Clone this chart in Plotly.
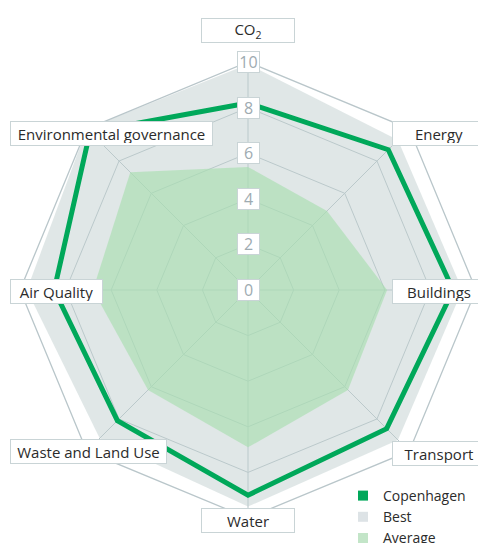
import plotly.graph_objects as go

# ---- data ----
categories = ["CO2", "Energy", "Buildings", "Transport", "Water",
              "Waste and Land Use", "Air Quality", "Environmental governance"]
category_labels = ["CO<sub>2</sub>", "Energy", "Buildings", "Transport", "Water",
                   "Waste and Land Use", "Air Quality", "Environmental governance"]
copenhagen = [8.2, 8.7, 9.0, 8.6, 9.0, 8.1, 8.5, 9.8]
best = [9.9, 9.3, 9.4, 9.3, 9.5, 9.2, 9.7, 10.0]
average = [5.4, 4.9, 6.1, 6.2, 6.9, 6.2, 6.8, 7.3]
radial_ticks = [0, 2, 4, 6, 8, 10]

# ---- styling / layout ----
OFF = 8                      # page body margin
W, H = 486 - OFF, 543 - OFF  # figure size
CX, CY, R = 248 - OFF, 290 - OFF, 228
FONT = "Open Sans"
GREEN = "#00a85a"
GRID = "#b9c6ca"


def paper(x, y):
    """screen px (of the page) -> paper coords"""
    return (x - OFF) / W, 1 - (y - OFF) / H


def closed(v):
    return list(v) + [v[0]]


fig = go.Figure()
fig.add_trace(go.Scatterpolar(
    r=closed(best), theta=closed(categories), mode="lines", fill="toself",
    fillcolor="rgba(190,203,205,0.47)", line=dict(width=0, color="rgba(0,0,0,0)"),
    showlegend=False, hoverinfo="skip"))
fig.add_trace(go.Scatterpolar(
    r=closed(average), theta=closed(categories), mode="lines", fill="toself",
    fillcolor="rgba(168,222,175,0.64)", line=dict(width=0, color="rgba(0,0,0,0)"),
    showlegend=False, hoverinfo="skip"))
fig.add_trace(go.Scatterpolar(
    r=closed(copenhagen), theta=closed(categories), mode="lines",
    line=dict(width=5, color=GREEN), showlegend=False))

# legend entries (squares)
for name, col in [("Copenhagen", GREEN), ("Best", "#dde3e6"), ("Average", "#c3e5c8")]:
    fig.add_trace(go.Scatterpolar(
        r=[None], theta=[categories[0]], mode="markers", name=name,
        marker=dict(symbol="square", size=10, color=col)))

annotations = []
# category labels: (anchor x, center y) in page px, xanchor, box width
label_boxes = {
    "CO2": (248, 30, "center", 94),
    "Energy": (486, 133, "right", 94),
    "Buildings": (486, 291, "right", 94),
    "Transport": (486, 453, "right", 94),
    "Water": (248, 520, "center", 94),
    "Waste and Land Use": (10, 451, "left", 157),
    "Air Quality": (10, 291, "left", 93),
    "Environmental governance": (10, 134, "left", 203),
}
for cat, lab in zip(categories, category_labels):
    x, y, xa, bw = label_boxes[cat]
    px, py = paper(x, y)
    annotations.append(dict(
        x=px, y=py, xref="paper", yref="paper", xanchor=xa, yanchor="middle",
        text=lab, showarrow=False, width=bw - 6, height=19, align="center",
        font=dict(family=FONT, size=15, color="#2b2b2b"),
        bgcolor="white", bordercolor="#c9d4d6", borderwidth=1, borderpad=2))

# radial tick labels
for t in radial_ticks:
    px, py = paper(248, 290 - R * t / 10)
    annotations.append(dict(
        x=px, y=py, xref="paper", yref="paper", xanchor="center", yanchor="middle",
        text=str(t), showarrow=False, width=19, height=18, align="center",
        font=dict(family=FONT, size=16, color="#9eabb1"),
        bgcolor="white", bordercolor="#c9d4d6", borderwidth=1, borderpad=1))

fig.update_layout(
    width=W, height=H, margin=dict(l=0, r=0, t=0, b=0, autoexpand=False),
    paper_bgcolor="white", plot_bgcolor="white",
    font=dict(family=FONT),
    polar=dict(
        domain=dict(x=[(CX - R) / W, (CX + R) / W], y=[(H - CY - R) / H, (H - CY + R) / H]),
        bgcolor="white", gridshape="linear",
        angularaxis=dict(direction="clockwise", rotation=90, showticklabels=False,
                         ticks="", gridcolor=GRID, gridwidth=1.3, showline=True,
                         linecolor=GRID, linewidth=1.3),
        radialaxis=dict(range=[0, 10], tickvals=radial_ticks[1:], showticklabels=False,
                        ticks="", showline=False, gridcolor=GRID, gridwidth=1.3),
    ),
    legend=dict(x=(343 - OFF) / W, y=1 - (480 - OFF) / H, xanchor="left", yanchor="top",
                font=dict(family=FONT, size=14, color="#2b2b2b"),
                bgcolor="rgba(0,0,0,0)", tracegroupgap=0),
    annotations=annotations,
)

fig.write_html("out.html")
